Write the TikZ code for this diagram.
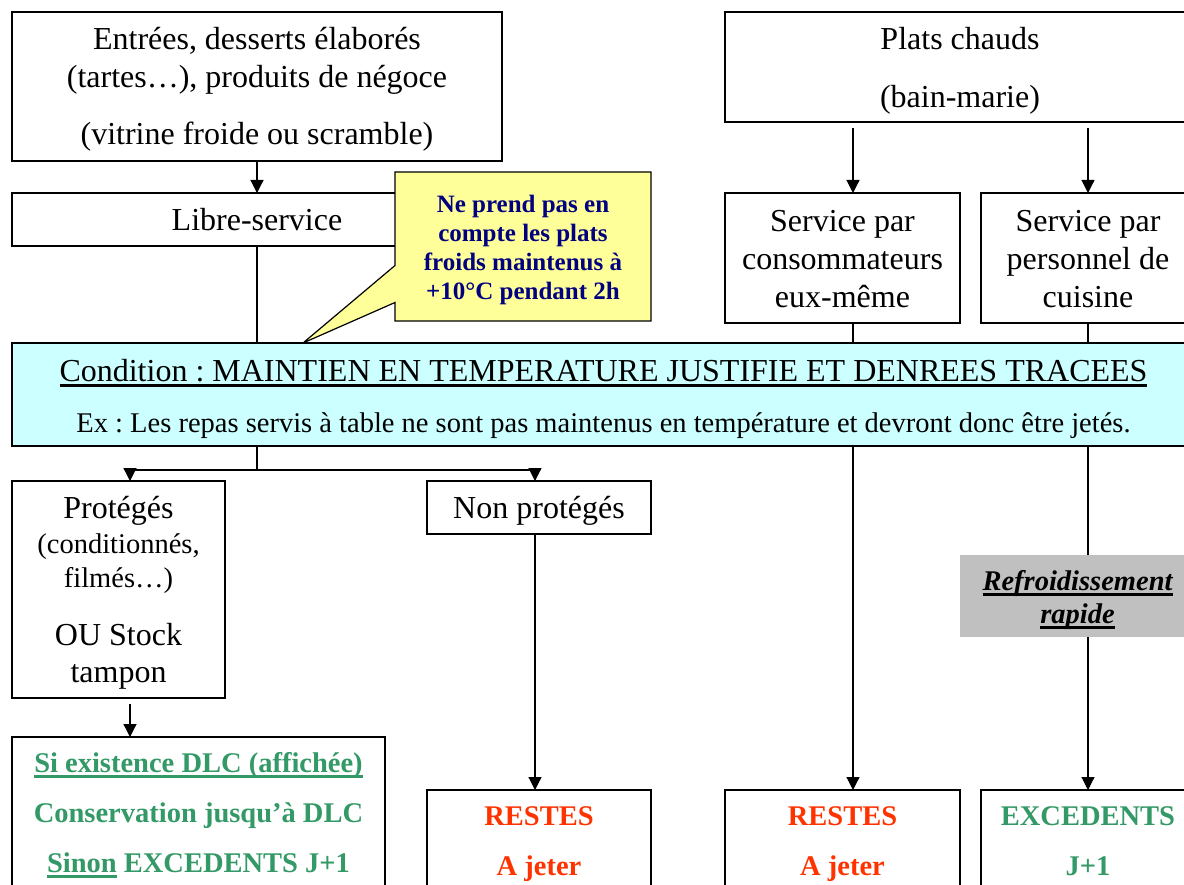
\documentclass[tikz,border=0pt]{standalone}
\usepackage{fontspec}
\setmainfont{Liberation Serif}
\frenchspacing
\usetikzlibrary{calc,arrows.meta,shapes.callouts,positioning}
\definecolor{condcyan}{HTML}{CCFFFF}
\definecolor{noteyellow}{HTML}{FFFF99}
\definecolor{notenavy}{HTML}{000080}
\definecolor{keepgreen}{HTML}{339966}
\definecolor{wastered}{HTML}{FF3300}
\definecolor{coolgray}{HTML}{C0C0C0}
\newcommand\bigtxt{\fontsize{32}{38}\selectfont}
\newcommand\smalltxt{\fontsize{28.5}{34}\selectfont}
\newcommand\notetxt{\fontsize{25}{29}\selectfont\bfseries}
% struts fixing the first baseline and the last depth of a box text
\newcommand\firstline[1]{\rule{0pt}{#1}}
\newcommand\lastline{\rule[-10pt]{0pt}{10pt}}
\newcommand\ulined[1]{\begingroup\setbox0\hbox{#1}\rlap{\rule[-5.5pt]{\wd0}{2.2pt}}\box0\endgroup}
\tikzset{
     box/.style      = {draw, line width=1.2pt, inner sep=0pt, outer sep=0pt, align=center, anchor=north west, font=\bigtxt},
     keepbox/.style  = {box, text=keepgreen, font=\smalltxt\bfseries},
     wastebox/.style = {box, text=wastered, font=\smalltxt\bfseries},
     notebox/.style  = {rectangle callout, draw, fill=noteyellow, line width=1.2pt, text=notenavy,
                        align=center, font=\notetxt, inner sep=0pt, outer sep=0pt},
     flow/.style     = {line width=1.2pt, -{Triangle[length=13pt,width=13pt]}},
     link/.style     = {line width=1.2pt},
    }

\begin{document}
\begin{tikzpicture}[x=1pt,y=-1pt]
        \path [use as bounding box, fill=white] (0,0) rectangle (1184,885);
        \coordinate (colA) at (130,0);
        \coordinate (colB) at (535,0);
        \coordinate (colC) at (853,0);
        \coordinate (colD) at (1088,0);
        \coordinate (split) at (257,470);
        \coordinate (tip) at (303,343);

        % cold side
        \node [box, minimum width=490pt, minimum height=149pt] (entrees) at (12,12)
            {\firstline{32pt}Entrées, desserts élaborés\\(tartes…), produits de négoce\\[19pt](vitrine froide ou scramble)\lastline};
        \node [box, minimum width=490pt, minimum height=53pt, below=32pt of entrees.south west, anchor=north west] (libre)
            {\firstline{33pt}Libre-service\lastline};
        \node [notebox, minimum width=256pt, minimum height=149pt, callout absolute pointer=(tip),
               callout pointer width=37pt] (note) at (523,246.5)
            {\firstline{30pt}Ne prend pas en\\compte les plats\\froids maintenus à\\+10°C pendant 2h\lastline};

        % hot side
        \node [box, minimum width=470pt, minimum height=110pt] (plats) at (725,12)
            {\firstline{34pt}Plats chauds\\[20pt](bain-marie)\lastline};
        \node [box, minimum width=235pt, minimum height=130pt, below=71pt of plats.south west, anchor=north west] (serv1)
            {\firstline{33pt}Service par\\consommateurs\\eux-même\lastline};
        \node [box, minimum width=214pt, minimum height=130pt, right=21pt of serv1.north east, anchor=north west] (serv2)
            {\firstline{33pt}Service par\\personnel de\\cuisine\lastline};

        % condition
        \node [box, fill=condcyan, minimum width=1183pt, minimum height=103pt, below=97pt of libre.south west, anchor=north west] (cond)
            {\firstline{34pt}\ulined{Condition : MAINTIEN EN TEMPERATURE JUSTIFIE ET DENREES TRACEES}\\[13pt]{\smalltxt Ex : Les repas servis à table ne sont pas maintenus en température et devront donc être jetés.}\lastline};

        \node [box, minimum width=213pt, minimum height=217pt, below=35pt of cond.south west, anchor=north west] (prot)
            {\firstline{31pt}Protégés\\[-3pt]{\smalltxt (conditionnés,}\\[-4pt]{\smalltxt filmés…)}\\[20pt]OU Stock\\[-1pt]tampon\lastline};
        \node [box, minimum width=224pt, minimum height=53pt] (nonprot) at (427,481)
            {\firstline{31pt}Non protégés\lastline};
        \node [box, fill=coolgray, draw=none, minimum width=235pt, minimum height=82pt,
               font=\smalltxt\bfseries\itshape] (refroid) at (960,555)
            {\firstline{31pt}\ulined{Refroidissement}\\[-1pt]\ulined{rapide}\lastline};

        % outcomes
        \node [keepbox, minimum width=373pt, minimum height=150pt, below=39pt of prot.south west, anchor=north west] (dlc)
            {\firstline{30pt}\ulined{Si existence DLC (affichée)}\\[16pt]Conservation jusqu’à DLC\\[16pt]\ulined{Sinon} EXCEDENTS J+1\lastline};
        \node [wastebox, minimum width=224pt, minimum height=104pt] (restes1) at (427,790)
            {\firstline{26pt}RESTES\\[16pt]A jeter\lastline};
        \node [wastebox, minimum width=235pt, minimum height=104pt] (restes2) at (725,790)
            {\firstline{26pt}RESTES\\[16pt]A jeter\lastline};
        \node [keepbox, minimum width=214pt, minimum height=104pt] (exced) at (981,790)
            {\firstline{26pt}EXCEDENTS\\[16pt]J+1\lastline};

        \draw [flow] (entrees) -- (libre);
        \draw [link] (libre) -- (libre |- cond.north);
        \draw [link] (libre |- cond.south) -- (split);
        \draw [link] (split -| colA) -- (split -| colB);
        \draw [flow] (split -| colA) -- (prot.north -| colA);
        \draw [flow] (split -| colB) -- (nonprot.north -| colB);
        \draw [flow, shorten <=6pt] (prot.south -| colA) -- (dlc.north -| colA);
        \draw [flow] (nonprot.south -| colB) -- (restes1.north -| colB);

        \draw [flow, shorten <=6pt] (plats.south -| colC) -- (serv1.north -| colC);
        \draw [flow, shorten <=6pt] (plats.south -| colD) -- (serv2.north -| colD);
        \draw [link] (serv1.south -| colC) -- (cond.north -| colC);
        \draw [link] (serv2.south -| colD) -- (cond.north -| colD);
        \draw [flow] (cond.south -| colC) -- (restes2.north -| colC);
        \draw [link] (cond.south -| colD) -- (refroid.north -| colD);
        \draw [flow] (refroid.south -| colD) -- (exced.north -| colD);
    \end{tikzpicture}
\end{document}
